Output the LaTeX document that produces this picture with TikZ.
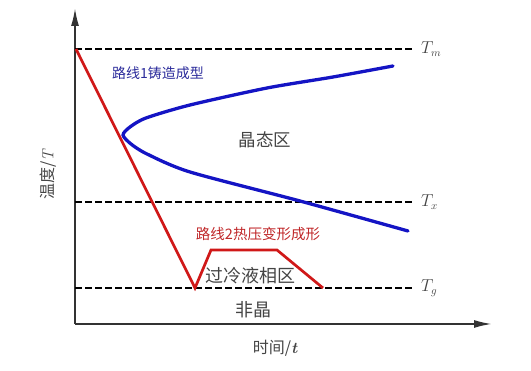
\documentclass[tikz,border=0pt]{standalone}
\usepackage{fontspec}
\newfontfamily\cjk{Noto Sans CJK SC}
\usetikzlibrary{arrows.meta}
\definecolor{axisgray}{HTML}{333333}
\definecolor{txtgray}{HTML}{444444}
\definecolor{lblue}{HTML}{2B2B9B}
\definecolor{lred}{HTML}{C0282A}
\definecolor{cblue}{HTML}{1414C4}
\definecolor{cred}{HTML}{D01818}
\tikzset{
  axisline/.style={line width=1.9pt, draw=axisgray, -{Latex[length=18pt,width=8pt]}},
  tline/.style={line width=1.9pt, draw=black, dash pattern=on 6.5pt off 3.5pt},
  redpath/.style={line width=2.7pt, draw=cred, line join=miter},
  bluepath/.style={line width=3.3pt, draw=cblue, line cap=round},
  cnlabel/.style={font=\cjk\fontsize{18}{20}\selectfont, text=txtgray, inner sep=0pt},
  tlabel/.style={font=\fontsize{16}{18}\selectfont, text=txtgray, inner sep=0pt, anchor=west},
}
\begin{document}
\begin{tikzpicture}[x=1pt,y=1pt]
\useasboundingbox (0,0) rectangle (531,371);
% axes
\coordinate (O) at (75,47);
\coordinate (ytop) at (75,363);
\coordinate (xend) at (492,47);
\draw[axisline] (O) -- (ytop);
\draw[axisline] (O) -- (xend);
% temperature lines
\coordinate (m0) at (75,322); \coordinate (m1) at (413,322);
\coordinate (x0) at (75,169); \coordinate (x1) at (413,169);
\coordinate (g0) at (75,83);  \coordinate (g1) at (413,83);
\draw[tline] (m0) -- (m1);
\draw[tline] (x0) -- (x1);
\draw[tline] (g0) -- (g1);
\node[tlabel] (Tm) at (421,322) {$T_{m}$};
\node[tlabel] (Tx) at (421,169) {$T_{x}$};
\node[tlabel] (Tg) at (421,83) {$T_{g}$};
% blue curve
\draw[bluepath] plot[smooth, tension=0.45] coordinates {
  (393,305) (333,294) (267,283) (190,266) (146,253) (130,244) (123,236)
  (131,227) (147,217) (190,199) (300,170) (408,140)};
% red path
\coordinate (r0) at (76,322);
\coordinate (r1) at (195,83);
\coordinate (r2) at (211,121);
\coordinate (r3) at (277,121);
\coordinate (r4) at (323,83);
\draw[redpath] (r0) -- (r1) -- (r2) -- (r3) -- (r4);
% labels
\node[font=\cjk\fontsize{14}{16}\selectfont, text=lblue, inner sep=0pt] (route1) at (158,298) {路线1铸造成型};
\node[font=\cjk\fontsize{14.5}{16}\selectfont, text=lred, inner sep=0pt] (route2) at (258,137) {路线2热压变形成形};
\node[cnlabel, font=\cjk\fontsize{17.5}{20}\selectfont] (cryst) at (265,231) {晶态区};
\node[cnlabel] (scl) at (250,95) {过冷液相区};
\node[cnlabel] (amor) at (253,61) {非晶};
\node[cnlabel, font=\cjk\fontsize{16}{18}\selectfont] (xlab) at (275,23) {时间/{\normalfont\itshape\bfseries t}};
\node[cnlabel, font=\cjk\fontsize{16}{18}\selectfont, rotate=90] (ylab) at (48,196) {温度/{\normalfont\itshape T}};
\end{tikzpicture}
\end{document}
